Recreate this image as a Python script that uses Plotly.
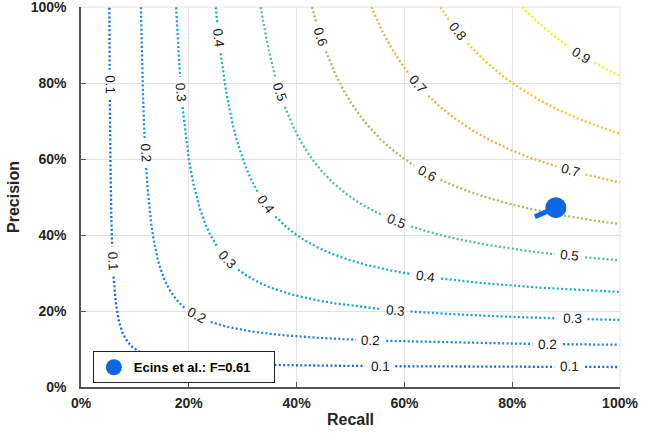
import numpy as np
import plotly.graph_objects as go

# ---- data ----
f_levels = [0.1, 0.2, 0.3, 0.4, 0.5, 0.6, 0.7, 0.8, 0.9]
level_colors = ["#1a67e2", "#1e87e0", "#12a5d4", "#14b6ba", "#52c08e",
                "#a6c05c", "#e9b447", "#f8c12f", "#f6f216"]
method_name = "Ecins et al.: F=0.61"
method_recall = [0.842, 0.881]
method_precision = [0.448, 0.472]
tick_vals = [0, 0.2, 0.4, 0.6, 0.8, 1.0]
tick_text = ["0%", "20%", "40%", "60%", "80%", "100%"]

# label placements: (level, axis used to locate, value)
label_specs = [
    (0.1, "p", 0.795), (0.1, "p", 0.33), (0.1, "r", 0.555), (0.1, "r", 0.907),
    (0.2, "p", 0.616), (0.2, "r", 0.215), (0.2, "r", 0.538), (0.2, "r", 0.866),
    (0.3, "p", 0.776), (0.3, "r", 0.271), (0.3, "r", 0.583), (0.3, "r", 0.911),
    (0.4, "p", 0.918), (0.4, "r", 0.343), (0.4, "r", 0.640),
    (0.5, "r", 0.369), (0.5, "r", 0.586), (0.5, "r", 0.907),
    (0.6, "r", 0.445), (0.6, "r", 0.642),
    (0.7, "r", 0.625), (0.7, "r", 0.909),
    (0.8, "r", 0.699),
    (0.9, "r", 0.928),
]

# ---- layout geometry ----
W, H = 647, 433
ML, MR, MT, MB = 81, 27, 7, 46
PW, PH = W - ML - MR, H - MT - MB
GAP = 15  # px radius of gap around labels
FONT = "Liberation Sans, Arial, Helvetica"

def iso_p(f, r):
    return f * r / (2 * r - f)

fig = go.Figure()
annotations = []

for f, col in zip(f_levels, level_colors):
    labs = []
    for lf, ax, v in label_specs:
        if lf != f:
            continue
        if ax == "r":
            r, p = v, iso_p(f, v)
        else:
            p, r = v, iso_p(f, v)
        labs.append((r, p))
    t = np.linspace(0, 1, 4000)
    r_vals = f / 2 + (1 - f / 2) * (np.exp(t * 6) - 1) / (np.exp(6) - 1) + 1e-9
    p_vals = iso_p(f, r_vals)
    keep = (p_vals <= 1.0) & (p_vals >= 0) & (r_vals <= 1.0)
    r_vals, p_vals = r_vals[keep], p_vals[keep]
    xs, ys = [], []
    for r, p in zip(r_vals, p_vals):
        hidden = False
        for lr, lp in labs:
            dx = (r - lr) * PW
            dy = (p - lp) * PH
            if dx * dx + dy * dy < GAP * GAP:
                hidden = True
                break
        if hidden:
            if xs and xs[-1] is not None:
                xs.append(None); ys.append(None)
        else:
            xs.append(float(r)); ys.append(float(p))
    fig.add_trace(go.Scatter(x=xs, y=ys, mode="lines",
                             line=dict(color=col, width=2.3, dash="2px,2.3px"),
                             showlegend=False, hoverinfo="skip", cliponaxis=False))
    for lr, lp in labs:
        slope = (PH / PW) * f * f / (2 * lr - f) ** 2
        ang = float(np.degrees(np.arctan(slope)))
        annotations.append(dict(x=lr, y=lp, xref="x", yref="y", text=f"{f:.1f}",
                                showarrow=False, textangle=ang,
                                font=dict(family=FONT, size=13.5, color="#1a1a1a")))

fig.add_trace(go.Scatter(x=method_recall, y=method_precision, mode="lines",
                         line=dict(color="#0a69e0", width=5),
                         showlegend=False, hoverinfo="skip"))
fig.add_trace(go.Scatter(x=[method_recall[-1]], y=[method_precision[-1]], mode="markers",
                         marker=dict(color="#0a69e0", size=21),
                         name=method_name + "\u00a0" * 5, showlegend=True))

axis_common = dict(range=[0, 1], tickvals=tick_vals, ticktext=tick_text,
                   showgrid=True, gridcolor="#e2e2e2", gridwidth=1,
                   showline=True, linecolor="#555555", linewidth=1.5,
                   ticks="inside", ticklen=5, tickcolor="#555555",
                   zeroline=False, fixedrange=True, automargin=False,
                   ticklabeloverflow="allow",
                   tickfont=dict(family=FONT, size=14, color="#262626", weight="bold"))

shapes = [
    dict(type="line", xref="paper", yref="paper", x0=0, x1=1, y0=1, y1=1,
         line=dict(color="#e2e2e2", width=1), layer="below"),
    dict(type="line", xref="paper", yref="paper", x0=1, x1=1, y0=0, y1=1,
         line=dict(color="#e2e2e2", width=1), layer="below"),
]

fig.update_layout(
    width=W, height=H,
    margin=dict(l=ML, r=MR, t=MT, b=MB, autoexpand=False),
    plot_bgcolor="white", paper_bgcolor="white",
    xaxis=dict(**axis_common, ticklabelstandoff=2,
               title=dict(text="<b>Recall</b>", standoff=4,
                          font=dict(family=FONT, size=16, color="#262626"))),
    yaxis=dict(**axis_common, ticklabelstandoff=10,
               title=dict(text="<b>Precision</b>", standoff=7,
                          font=dict(family=FONT, size=16, color="#262626"))),
    legend=dict(x=0.022, y=0.094, xanchor="left", yanchor="top",
                bgcolor="white", bordercolor="#222222", borderwidth=1,
                font=dict(family=FONT, size=13, color="black", weight="bold"),
                itemsizing="trace", tracegroupgap=0),
    annotations=annotations,
    shapes=shapes,
)

fig.write_html("out.html", config={"displayModeBar": False},
               post_script="document.body.style.margin='0';document.body.style.padding='0';")
